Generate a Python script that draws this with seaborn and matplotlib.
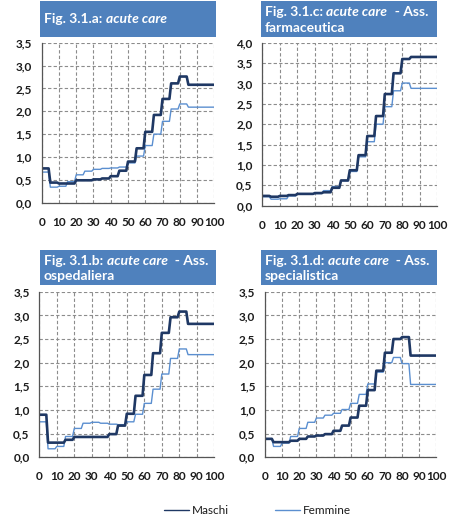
import numpy as np
import pandas as pd
import matplotlib
matplotlib.use('Agg')
import matplotlib.pyplot as plt
from matplotlib.patches import Rectangle
from matplotlib.lines import Line2D
from matplotlib.ticker import MultipleLocator, FuncFormatter
import seaborn as sns

# age bands (5 years each, last band 85+ runs to 100)
band_start = [0, 5, 10, 15, 20, 25, 30, 35, 40, 45, 50, 55, 60, 65, 70, 75, 80, 85]

# Fig 3.1.a - acute care
a_maschi = [0.75, 0.44, 0.42, 0.42, 0.49, 0.49, 0.51, 0.53, 0.58, 0.70, 0.90, 1.19, 1.55, 1.92, 2.27, 2.61, 2.76, 2.58]
a_femmine = [0.67, 0.34, 0.36, 0.46, 0.61, 0.69, 0.73, 0.75, 0.76, 0.78, 0.87, 1.02, 1.25, 1.50, 1.78, 2.05, 2.16, 2.09]
# Fig 3.1.c - farmaceutica
c_maschi = [0.24, 0.22, 0.24, 0.26, 0.29, 0.29, 0.31, 0.33, 0.44, 0.62, 0.87, 1.24, 1.71, 2.20, 2.74, 3.25, 3.60, 3.65]
c_femmine = [0.22, 0.16, 0.17, 0.24, 0.28, 0.29, 0.30, 0.37, 0.47, 0.61, 0.84, 1.20, 1.57, 2.00, 2.43, 2.82, 3.01, 2.88]
# Fig 3.1.b - ospedaliera
b_maschi = [0.90, 0.31, 0.31, 0.37, 0.43, 0.43, 0.43, 0.43, 0.49, 0.67, 0.92, 1.30, 1.74, 2.20, 2.63, 2.96, 3.08, 2.82]
b_femmine = [0.75, 0.18, 0.23, 0.44, 0.61, 0.72, 0.74, 0.72, 0.70, 0.69, 0.75, 0.91, 1.14, 1.44, 1.76, 2.09, 2.29, 2.17]
# Fig 3.1.d - specialistica
d_maschi = [0.39, 0.32, 0.32, 0.35, 0.39, 0.44, 0.46, 0.49, 0.56, 0.67, 0.84, 1.09, 1.42, 1.83, 2.21, 2.50, 2.54, 2.15]
d_femmine = [0.39, 0.23, 0.30, 0.44, 0.61, 0.74, 0.83, 0.89, 0.93, 1.01, 1.14, 1.33, 1.55, 1.80, 2.00, 2.11, 1.98, 1.54]

col_m = '#1F3864'
col_f = '#5B8FD0'
box_col = '#4F81BD'
txt_col = '#1c1c1c'

sns.set_theme(style='white')
plt.rcParams['font.family'] = ['Lato', 'DejaVu Sans']


def expand(vals):
    # each band value held over the band's years
    ages, ys = [], []
    for i, s in enumerate(band_start):
        end = 100 if s == band_start[-1] else s + 4
        ages += [s, end]
        ys += [vals[i], vals[i]]
    return pd.DataFrame({'age': ages, 'value': ys})


W, H = 458, 527
fig = plt.figure(figsize=(W / 100, H / 100), dpi=100)
renderer = fig.canvas.get_renderer()

panels = [
    ([[('Fig. 3.1.a: ', False), ('acute care', True)]],
     a_maschi, a_femmine, 3.5, (41.7, 42.7, 214.3, 202.7), (40, 1, 216, 36.5)),
    ([[('Fig. 3.1.c: ', False), ('acute care', True), ('  - Ass.', False)], [('farmaceutica', False)]],
     c_maschi, c_femmine, 4.0, (262.3, 42.7, 437.3, 205.7), (261, 1, 437, 36.5)),
    ([[('Fig. 3.1.b: ', False), ('acute care', True), ('  - Ass.', False)], [('ospedaliera', False)]],
     b_maschi, b_femmine, 3.5, (39.3, 291.7, 214.3, 457.3), (40, 250, 216, 285)),
    ([[('Fig. 3.1.d: ', False), ('acute care', True), ('  - Ass.', False)], [('specialistica', False)]],
     d_maschi, d_femmine, 3.5, (265, 291.7, 436.3, 457.3), (261, 250, 437, 285)),
]

for title, vm, vf, ymax, (x0, y0, x1, y1), (bx0, by0, bx1, by1) in panels:
    ax = fig.add_axes([x0 / W, 1 - y1 / H, (x1 - x0) / W, (y1 - y0) / H])
    sns.lineplot(data=expand(vf), x='age', y='value', ax=ax, color=col_f, lw=1.0,
                 estimator=None, sort=False)
    sns.lineplot(data=expand(vm), x='age', y='value', ax=ax, color=col_m, lw=1.9,
                 estimator=None, sort=False)
    ax.set_xlim(0, 100)
    ax.set_ylim(0, ymax)
    ax.xaxis.set_major_locator(MultipleLocator(10))
    ax.yaxis.set_major_locator(MultipleLocator(0.5))
    ax.yaxis.set_major_formatter(FuncFormatter(lambda v, p: f'{v:.1f}'.replace('.', ',')))
    ax.grid(True, color='#8c8c8c', ls=(0, (3, 2)), lw=0.8)
    ax.set_axisbelow(True)
    for side in ['top', 'right']:
        ax.spines[side].set_visible(False)
    for side in ['left', 'bottom']:
        ax.spines[side].set_color('#555555')
        ax.spines[side].set_linewidth(0.9)
    ax.tick_params(axis='both', direction='out', length=4, width=0.8, color='#555555',
                   labelsize=8.5, labelcolor=txt_col, pad=3)
    ax.tick_params(axis='x', pad=6)
    for lab in ax.get_xticklabels() + ax.get_yticklabels():
        lab.set_fontweight('bold')
    ax.set_xlabel('')
    ax.set_ylabel('')

    # blue title box
    fig.add_artist(Rectangle((bx0 / W, 1 - by1 / H), (bx1 - bx0) / W, (by1 - by0) / H,
                             transform=fig.transFigure, color=box_col, lw=0))
    if len(title) == 1:
        ys = [(by0 + by1) / 2 + 4]
    else:
        ys = [by0 + 15, by0 + 30.5]
    for line, yy in zip(title, ys):
        xx = (bx0 + 4) / W
        for txt, it in line:
            t = fig.text(xx, 1 - yy / H, txt, color='white', fontsize=10, fontweight='bold',
                         style='italic' if it else 'normal', va='baseline', ha='left')
            ext = t.get_window_extent(renderer=renderer)
            xx = ext.x1 / W

handles = [Line2D([], [], color=col_m, lw=1.0), Line2D([], [], color=col_f, lw=1.0)]
fig.legend(handles, ['Maschi', 'Femmine'], loc='center', bbox_to_anchor=(0.563, 1 - 511 / H),
           ncol=2, frameon=False, fontsize=8.5, handlelength=2.1, handletextpad=0.25,
           columnspacing=3.9, labelcolor=txt_col)

fig.savefig('out.png', dpi=100)
